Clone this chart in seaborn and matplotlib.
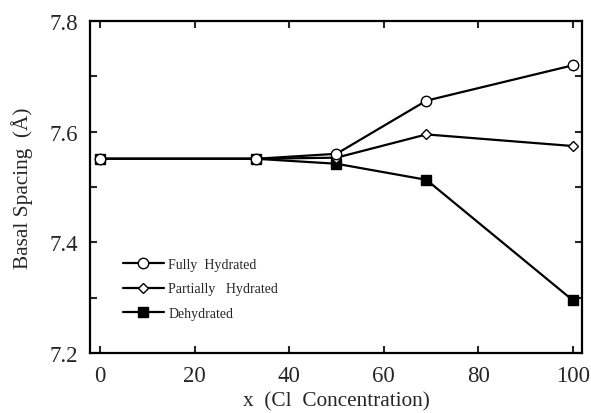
import matplotlib
matplotlib.use("Agg")
import matplotlib.pyplot as plt
from matplotlib.ticker import MultipleLocator
import seaborn as sns
import pandas as pd

# Cl concentration (x) and basal spacing (Å) for the three hydration states
cl_conc = [0, 33, 50, 69, 100]
fully_hydrated = [7.551, 7.551, 7.560, 7.656, 7.720]
partially_hydrated = [7.551, 7.551, 7.553, 7.595, 7.574]
dehydrated = [7.551, 7.551, 7.542, 7.513, 7.295]

series_names = ["Fully  Hydrated", "Partially   Hydrated", "Dehydrated"]

sns.set_style("ticks")
plt.rcParams["font.family"] = ["Liberation Serif", "DejaVu Serif"]

fig = plt.figure(figsize=(5.91, 4.14), dpi=100)
ax = fig.add_axes([0.1523, 0.1449, 0.8325, 0.802])

df = pd.DataFrame({
    "x": cl_conc * 3,
    "spacing": fully_hydrated + partially_hydrated + dehydrated,
    "state": [series_names[0]] * 5 + [series_names[1]] * 5 + [series_names[2]] * 5,
})

styles = {
    series_names[0]: dict(marker="o", markersize=7.5, markerfacecolor="white", zorder=5),
    series_names[1]: dict(marker="D", markersize=5.5, markerfacecolor="white", zorder=4),
    series_names[2]: dict(marker="s", markersize=6.5, markerfacecolor="black", zorder=3),
}

for name in series_names:
    sub = df[df["state"] == name]
    sns.lineplot(data=sub, x="x", y="spacing", ax=ax, color="black",
                 linewidth=1.6, markeredgecolor="black", markeredgewidth=1.0,
                 label=name, **styles[name])

ax.set_xlim(-2.1, 101.9)
ax.set_ylim(7.2, 7.8)
ax.xaxis.set_major_locator(MultipleLocator(20))
ax.yaxis.set_major_locator(MultipleLocator(0.2))
ax.yaxis.set_minor_locator(MultipleLocator(0.1))
ax.yaxis.set_major_formatter(matplotlib.ticker.FormatStrFormatter("%.1f"))

ax.tick_params(which="both", direction="in", top=True, right=True,
               length=5, width=1.5, labelsize=16.5, pad=8.5)

for sp in ax.spines.values():
    sp.set_linewidth(1.6)
    sp.set_color("black")

ax.set_xlabel("x  (Cl  Concentration)", fontsize=15.3, labelpad=4)
ax.set_ylabel("Basal Spacing  (Å)", fontsize=15.3, labelpad=12)

leg = ax.legend(loc="center left", bbox_to_anchor=(0.052, 0.193), frameon=False,
                fontsize=10, handlelength=3.0, handletextpad=0.3,
                labelspacing=0.85, borderpad=0.0)

fig.savefig("out.png", dpi=100)
